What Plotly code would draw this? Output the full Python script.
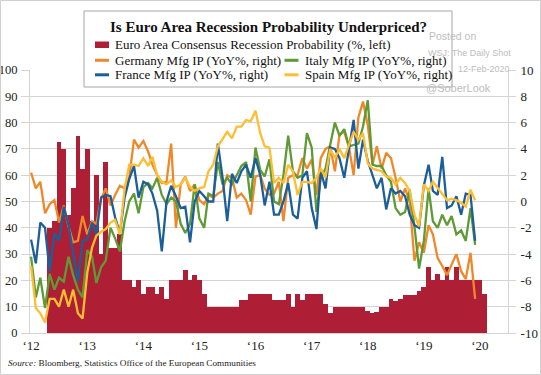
import plotly.graph_objects as go
import pandas as pd

# ---------------- data ----------------
line_dates = pd.date_range("2012-01-01", periods=96, freq="MS")
bar_dates = pd.date_range("2012-05-01", periods=94, freq="MS")

recession_prob = [40, 42.5, 72.5, 70, 45, 55, 75, 62.5, 70, 42.5, 60, 30, 65, 32.5, 32.5, 37.5,
                  20, 20, 17.5, 20, 15, 17.5, 17.5, 15, 17.5, 13, 20, 20, 20, 24, 20, 22, 20, 15,
                  10, 10, 10, 10, 10, 10, 10, 12.5, 12.5, 15, 15, 15, 15, 15, 12.5, 12.5, 12.5,
                  15, 10, 15, 12.5, 15, 15, 15, 15, 11, 7.5,
                  10, 10, 10, 10, 10, 10, 10, 8.5, 7.5, 8, 10, 10, 13, 12, 13, 14.5, 14.5, 14.5,
                  16, 17.5, 25, 20, 22.5, 20, 25, 20, 25, 20, 20, 20, 20, 20, 15]

germany = [2.2, 1.0, 1.5, -0.9, -0.2, 0.1, -1.6, -0.3, -1.9, -3.1, -3.0, -1.1,
           -2.5, -1.5, -1.7, 0.2, 1.0, -0.3, 0.5, 1.2, 1.0, 1.8, 4.7, 4.1,
           4.6, 3.8, 2.8, 2.0, 1.4, 1.5, 4.4, -2.0, 1.3, 1.9, 0.8, 1.3,
           0.1, -0.2, 0.5, 0.3, 0.6, 0.8, 2.0, 1.8, 0.3, 0.6, 0.1, -1.0,
           1.9, 2.0, 1.0, 0.5, 0.6, 1.5, -1.5, 1.8, 2.0, 2.0, 3.3, 2.5,
           3.2, 0.5, 3.3, 4.0, 4.2, 2.3, 5.1, 5.3, 4.1, 2.0, 6.4, 7.6,
           5.8, 2.8, 4.2, 2.5, 3.7, 3.3, 1.8, 0.0, 1.0, 0.0, -4.5, -3.1,
           -3.9, -1.8, -2.5, -4.3, -4.9, -5.6, -4.8, -4.0, -5.3, -5.9, -3.9, -7.4]

france = [-2.9, -4.7, -1.6, -2.0, -5.3, -2.4, -3.0, -0.4, -1.8, -4.0, -6.1, -3.0,
          -2.9, -1.6, -2.5, 0.3, 0.5, 0.4, -1.2, -2.4, 0.3, 1.7, 2.7, 0.3,
          1.5, 1.3, 0.6, -0.7, -3.8, 0.0, 1.2, 0.4, -0.5, -0.4, -3.1, 0.0,
          0.8, 0.4, 0.0, 0.0, 4.4, 1.8, -1.5, 2.1, 1.4, 2.3, 2.8, 1.8,
          3.3, 2.0, -0.3, 1.5, -1.0, -1.0, 0.0, 1.4, -1.0, -1.3, 1.8, 2.3,
          -0.5, -2.1, 2.3, 1.0, 4.1, 4.0, 3.3, 1.8, 4.1, 6.2, 2.5, 4.7,
          3.1, 1.9, 1.0, 1.8, -0.6, 1.0, 0.6, 0.8, 0.4, -1.0, -1.8, -2.0,
          1.2, 2.8, 0.8, 0.5, 3.4, -0.5, -0.3, 0.4, -1.0, 0.6, 0.5, -3.0]

italy = [-4.2, -7.3, -5.8, -8.1, -5.5, -6.7, -5.8, -6.1, -4.2, -5.6, -6.7, -7.3,
         -3.7, -4.2, -6.2, -5.0, -4.5, -2.0, -2.8, -3.8, -1.5, 0.0, 0.6, -0.9,
         1.1, 1.4, 1.0, 1.8, 0.5, -0.2, 0.3, 0.0, -1.7, -2.4, -1.7, 1.3,
         -1.3, -2.0, 0.6, 0.4, 3.0, 1.3, 1.8, 1.3, 2.0, 2.7, 3.0, 0.0,
         4.1, 2.4, 1.9, 3.2, 0.0, -0.2, 2.0, 5.0, 2.3, 1.8, 2.0, 5.2,
         4.1, -0.8, 1.8, 2.5, 4.3, 6.0, 5.0, 5.5, 4.2, 4.3, 4.4, 5.7,
         7.7, 2.8, 2.7, 2.7, 2.0, 1.5, -0.5, -1.0, -0.8, 0.9, -1.9, -5.1,
         -3.0, 1.0, -1.5, -2.0, -1.0, -1.8, -1.1, -2.5, -2.2, -3.0, -0.5, -3.3]

spain = [-4.9, -8.1, -8.5, -9.2, -7.4, -7.4, -8.0, -6.7, -8.0, -6.7, -8.5, -8.9,
         -5.4, -3.5, -2.6, -2.3, -2.1, -1.6, -1.4, -2.5, 1.0, 2.8, 2.8, 2.7,
         3.3, 2.7, 3.4, 2.0, 1.5, 1.3, 1.6, 1.1, 1.3, 1.8, 1.1, 0.8,
         1.0, 1.1, 2.3, 2.8, 4.2, 4.8, 5.3, 4.8, 5.7, 5.7, 6.2, 6.1,
         6.9, 5.2, 4.2, 4.1, 1.4, 1.8, 1.4, 2.8, 2.3, 0.5, 1.5, 1.5,
         1.4, 1.8, 2.5, 1.8, 4.0, 3.3, 4.0, 3.3, 4.3, 5.3, 4.7, 5.2,
         2.9, 2.5, 2.4, 2.3, 1.9, 1.8, 1.3, 1.8, 1.4, 0.8, -1.0, -1.9,
         1.3, 0.8, 1.5, 1.0, 0.6, 0.1, 0.2, 0.1, -0.1, -0.4, 0.9, 0.1]

year_ticks = pd.date_range("2012-01-01", "2020-01-01", freq="YS")
year_labels = ["\u201812", "\u201813", "\u201814", "\u201815", "\u201816",
               "\u201817", "\u201818", "\u201819", "\u201820"]
right_tick_vals = [-10, -8, -6, -4, -2, 0, 2, 4, 6, 8, 10]
right_tick_labels = ["-10", "-8", "-6", "-4", "-2", "0", "2", "4", "6", "8", "10"]

bar_name = "Euro Area Consensus Recession Probability (%, left)"
series = [
    ("Germany Mfg IP (YoY%, right)", germany, "#F0882A"),
    ("Italy Mfg IP (YoY%, right)", italy, "#5F9B35"),
    ("France Mfg IP (YoY%, right)", france, "#1C5E98"),
    ("Spain Mfg IP (YoY%, right)", spain, "#FDBE32"),
]
BAR_COLOR = "#AE1F35"

# ---------------- geometry helpers ----------------
W, H = 541, 375
L, R, T, B = 30, 508, 70, 333
def px(x):
    return (x - L) / (R - L)
def py(y):
    return (B - y) / (B - T)

SERIF = "Liberation Serif"
SANS = "Liberation Sans"

fig = go.Figure()
fig.add_trace(go.Bar(x=bar_dates, y=recession_prob, name=bar_name,
                     marker=dict(color=BAR_COLOR, line=dict(width=0)),
                     width=31 * 24 * 3600 * 1000, yaxis="y", showlegend=False))
for name, vals, col in series:
    fig.add_trace(go.Scatter(x=line_dates, y=vals, name=name, mode="lines",
                             line=dict(color=col, width=2.3), yaxis="y2",
                             showlegend=False))

grid = "#D4D4D4"
fig.update_layout(
    width=W, height=H,
    margin=dict(l=L, r=W - R, t=T, b=H - B, pad=0),
    paper_bgcolor="white", plot_bgcolor="white",
    bargap=0,
    xaxis=dict(type="date", range=["2011-12-25", "2020-07-02"],
               tickvals=year_ticks, ticktext=year_labels,
               showgrid=False, showline=True, linecolor=grid, linewidth=1,
               ticks="", tickfont=dict(family=SERIF, size=13, color="#222"),
               zeroline=False, automargin=False),
    yaxis=dict(range=[0, 100], dtick=10, showgrid=True, gridcolor=grid, gridwidth=1,
               showline=True, linecolor=grid, linewidth=1, zeroline=False,
               ticks="outside", ticklen=8, tickcolor=grid, automargin=False,
               ticklabelstandoff=1,
               tickfont=dict(family=SERIF, size=12.5, color="#222")),
    yaxis2=dict(range=[-10, 10], tickvals=right_tick_vals, ticktext=right_tick_labels,
                overlaying="y", side="right",
                showgrid=False, showline=True, linecolor=grid, linewidth=1,
                zeroline=False, ticks="outside", ticklen=7, tickcolor=grid,
                automargin=False, ticklabelstandoff=2,
                tickfont=dict(family=SERIF, size=13, color="#222")),
)

shapes = []
annotations = []
# outer frame
shapes.append(dict(type="rect", xref="paper", yref="paper",
                   x0=px(0.5), x1=px(540.5), y0=py(374.5), y1=py(0.5),
                   line=dict(color="#D0D0D0", width=1), fillcolor="rgba(0,0,0,0)", layer="above"))
# legend box
shapes.append(dict(type="rect", xref="paper", yref="paper",
                   x0=px(84), x1=px(452), y0=py(87), y1=py(11),
                   line=dict(color="#A6A6A6", width=1), fillcolor="white", layer="above"))
annotations.append(dict(xref="paper", yref="paper", x=px(268), y=py(27.5),
                        text="<b>Is Euro Area Recession Probability Underpriced?</b>",
                        showarrow=False, xanchor="center", yanchor="middle",
                        font=dict(family=SERIF, size=15, color="#111")))
# legend entries
shapes.append(dict(type="rect", xref="paper", yref="paper",
                   x0=px(95), x1=px(109), y0=py(48), y1=py(41.5),
                   line=dict(width=0), fillcolor=BAR_COLOR, layer="above"))
annotations.append(dict(xref="paper", yref="paper", x=px(113), y=py(44.8), text=bar_name,
                        showarrow=False, xanchor="left", yanchor="middle",
                        font=dict(family=SERIF, size=13, color="#111")))
legend_pos = [(95, 113, 60.3), (284.5, 302.8, 60.3), (95, 113, 74.8), (284.5, 302.8, 74.8)]
for (name, vals, col), (sx, tx, yy) in zip(series, legend_pos):
    shapes.append(dict(type="line", xref="paper", yref="paper",
                       x0=px(sx), x1=px(sx + 14), y0=py(yy), y1=py(yy),
                       line=dict(color=col, width=3), layer="above"))
    annotations.append(dict(xref="paper", yref="paper", x=px(tx), y=py(yy), text=name,
                            showarrow=False, xanchor="left", yanchor="middle",
                            font=dict(family=SERIF, size=13, color="#111")))
# watermark
wm = "#BDBDBD"
for txt, xx, yy, sz in [("Posted on", 427, 36, 10.5), ("WSJ: The Daily Shot", 426, 52.8, 9),
                        ("12-Feb-2020", 456, 69, 9), ("@SoberLook", 424, 88, 11)]:
    annotations.append(dict(xref="paper", yref="paper", x=px(xx), y=py(yy), text=txt,
                            showarrow=False, xanchor="left", yanchor="middle",
                            font=dict(family=SANS, size=sz, color=wm)))
# source
annotations.append(dict(xref="paper", yref="paper", x=px(6), y=py(363),
                        text="<i>Source:</i> Bloomberg, Statistics Office of the European Communities",
                        showarrow=False, xanchor="left", yanchor="middle",
                        font=dict(family=SERIF, size=9.2, color="#222")))

fig.update_layout(shapes=shapes, annotations=annotations)
fig.write_html("out.html", config={"displayModeBar": False},
               post_script="document.body.style.margin='0';document.body.style.overflow='hidden';")
